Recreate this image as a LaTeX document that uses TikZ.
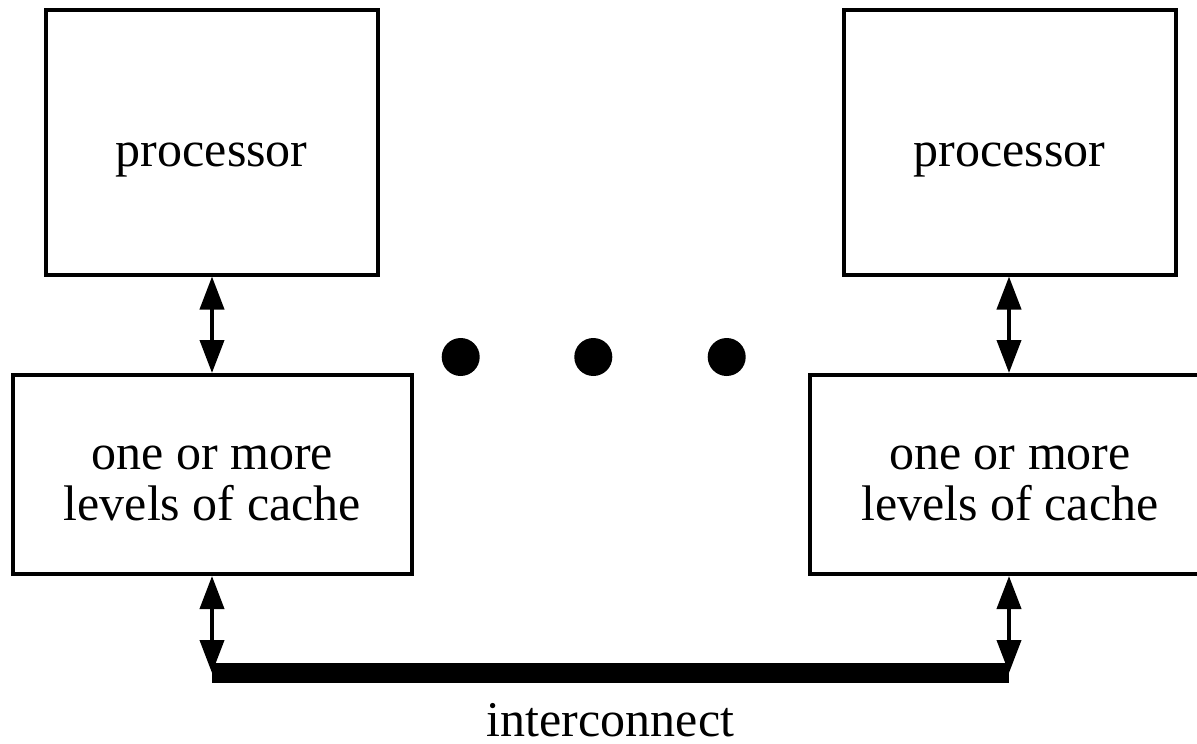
\documentclass[tikz,border=0pt]{standalone}
\usepackage{fontspec}
\setmainfont{Liberation Serif}
\usetikzlibrary{arrows.meta,calc}
\begin{document}
\begin{tikzpicture}[x=1pt,y=-1pt,
  box/.style 2 args={draw, line width=4pt, inner sep=0pt,
    minimum width=#1, minimum height=#2},
  txt/.style={font=\fontsize{50}{51}\selectfont, inner sep=0pt,
    anchor=base, align=center},
  link/.style={line width=4pt,
    {Triangle[width=24pt,length=33pt]}-{Triangle[width=24pt,length=33pt]}},
  bus/.style={line width=20pt, line cap=butt},
  dot/.style={circle, fill, inner sep=0pt, minimum size=38pt}]
\useasboundingbox (0,0) rectangle (1197,744);
\clip (0,0) rectangle (1197,744);

% processors and their caches
\node[box={332.5}{265}] (p1) at (211.75,142) {};
\node[box={332}{265}]   (p2) at (1009.5,142) {};
\node[box={398.5}{199}] (c1) at (212.25,474.5) {};
\node[box={400}{199}]   (c2) at (1010,474.5) {};

\node[txt] (p1t) at ($(p1.center)+(0,24.5)$) {processor};
\node[txt] (p2t) at ($(p2.center)+(0,24.5)$) {processor};
% the base anchor of a two-line label sits on its second line
\node[txt] (c1t) at ($(c1.center)+(0,45.5)$) {one or more\\levels of cache};
\node[txt] (c2t) at ($(c2.center)+(0,45.5)$) {one or more\\levels of cache};

% ellipsis between the two units
\node[dot] (d1) at (460.7,357) {};
\node[dot] (d2) at (593.3,357) {};
\node[dot] (d3) at (726.7,357) {};

% interconnect bus
\coordinate (busL) at (212,673);
\coordinate (busR) at (1009,673);
\draw[bus] (busL) -- (busR);
\node[txt] (ic) at ($(busL)!0.5!(busR)+(0,63)$) {interconnect};

% processor <-> cache <-> bus links
\draw[link] (p1.south -| busL) -- (c1.north -| busL);
\draw[link] (p2.south -| busR) -- (c2.north -| busR);
\draw[link] (c1.south -| busL) -- (busL);
\draw[link] (c2.south -| busR) -- (busR);
\end{tikzpicture}
\end{document}
